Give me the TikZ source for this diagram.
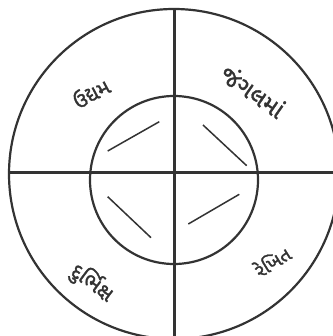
\documentclass[tikz,border=0pt]{standalone}
\usepackage{fontspec}
\newfontfamily\guj[Script=Gujarati,FakeBold=1.5]{Noto Sans Gujarati UI}
\definecolor{ink}{HTML}{333333}
\begin{document}
\begin{tikzpicture}[x=1pt,y=-1pt,
  mainline/.style={draw=ink,line width=3pt},
  ring/.style={draw=ink,line width=2.2pt},
  tick/.style={draw=ink,line width=1.5pt},
  word/.style={font=\guj\fontsize{21}{24}\selectfont,text=ink,inner sep=0pt}]
\useasboundingbox (0,0) rectangle (332,336);
\fill[white] (0,0) rectangle (332,336);
\coordinate (c) at (174,174);
\coordinate (ci) at (174,180);
\draw[ring] (c) circle[radius=165];
\draw[ring] (ci) circle[radius=84];
\coordinate (vt) at (174,9);
\coordinate (vb) at (174,340);
\coordinate (hl) at (9,173);
\coordinate (hr) at (340,173);
\draw[mainline] (vt) -- (vb);
\draw[mainline] (hl) -- (hr);
\coordinate (a1) at (107.7,151); \coordinate (a2) at (159.3,121.7);
\coordinate (b1) at (203,125); \coordinate (b2) at (246.7,165.7);
\coordinate (d1) at (107.7,196.7); \coordinate (d2) at (151,237.7);
\coordinate (e1) at (188.3,224); \coordinate (e2) at (239.3,194.3);
\draw[tick] (a1) -- (a2);
\draw[tick] (b1) -- (b2);
\draw[tick] (d1) -- (d2);
\draw[tick] (e1) -- (e2);
\node[word,rotate=28] (w1) at (91,93) {ઉદ્યમ};
\node[word,rotate=-35,font=\guj\fontsize{24}{26}\selectfont] (w2) at (253,91) {જંગલમાં};
\node[word,rotate=-37] (w3) at (92,283) {દુર્ભિક્ષ};
\node[word,rotate=32,font=\guj\fontsize{19}{22}\selectfont] (w4) at (272,261) {રેખિત};
\end{tikzpicture}
\end{document}
